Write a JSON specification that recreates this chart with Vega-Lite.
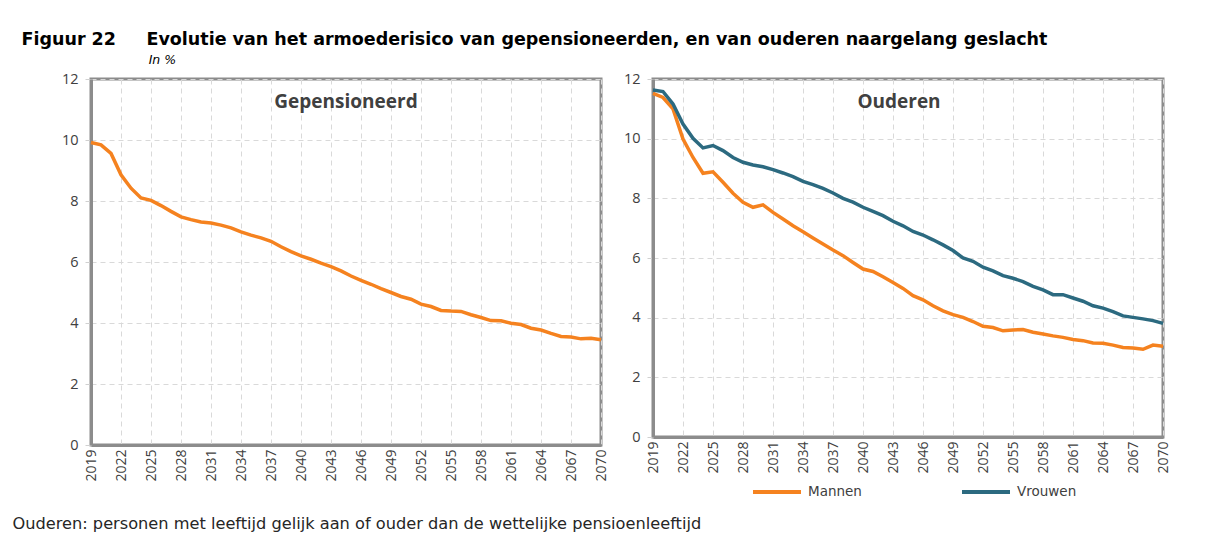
{
  "$schema": "https://vega.github.io/schema/vega-lite/v6.json",
  "padding": {"left": 10, "top": 30, "right": 5, "bottom": 5},
  "background": "white",
  "title": {
    "text": "Figuur 22\u00a0\u00a0\u00a0\u00a0\u00a0Evolutie van het armoederisico van gepensioneerden, en van ouderen naargelang geslacht",
    "subtitle": "\u200b\u00a0\u00a0\u00a0\u00a0\u00a0\u00a0\u00a0\u00a0\u00a0\u00a0\u00a0\u00a0\u00a0\u00a0\u00a0\u00a0\u00a0\u00a0\u00a0\u00a0\u00a0\u00a0\u00a0\u00a0\u00a0\u00a0\u00a0\u00a0\u00a0\u00a0\u00a0\u00a0In %",
    "anchor": "start",
    "frame": "bounds",
    "font": "DejaVu Sans",
    "fontSize": 17.5,
    "fontWeight": "bold",
    "color": "#000000",
    "subtitleFont": "DejaVu Sans",
    "subtitleFontSize": 12.5,
    "subtitleFontStyle": "italic",
    "subtitleColor": "#000000",
    "subtitlePadding": 6,
    "offset": 3,
    "dx": 11
  },
  "datasets": {
    "gep": [
      {"jaar": 2019, "waarde": 9.92}, {"jaar": 2020, "waarde": 9.84}, {"jaar": 2021, "waarde": 9.56}, {"jaar": 2022, "waarde": 8.86},
      {"jaar": 2023, "waarde": 8.42}, {"jaar": 2024, "waarde": 8.10}, {"jaar": 2025, "waarde": 8.02}, {"jaar": 2026, "waarde": 7.85},
      {"jaar": 2027, "waarde": 7.66}, {"jaar": 2028, "waarde": 7.48}, {"jaar": 2029, "waarde": 7.39}, {"jaar": 2030, "waarde": 7.31},
      {"jaar": 2031, "waarde": 7.28}, {"jaar": 2032, "waarde": 7.21}, {"jaar": 2033, "waarde": 7.12}, {"jaar": 2034, "waarde": 6.99},
      {"jaar": 2035, "waarde": 6.88}, {"jaar": 2036, "waarde": 6.79}, {"jaar": 2037, "waarde": 6.68}, {"jaar": 2038, "waarde": 6.50},
      {"jaar": 2039, "waarde": 6.34}, {"jaar": 2040, "waarde": 6.20}, {"jaar": 2041, "waarde": 6.09}, {"jaar": 2042, "waarde": 5.96},
      {"jaar": 2043, "waarde": 5.85}, {"jaar": 2044, "waarde": 5.71}, {"jaar": 2045, "waarde": 5.54}, {"jaar": 2046, "waarde": 5.40},
      {"jaar": 2047, "waarde": 5.27}, {"jaar": 2048, "waarde": 5.13}, {"jaar": 2049, "waarde": 5.00}, {"jaar": 2050, "waarde": 4.87},
      {"jaar": 2051, "waarde": 4.78}, {"jaar": 2052, "waarde": 4.62}, {"jaar": 2053, "waarde": 4.54}, {"jaar": 2054, "waarde": 4.41},
      {"jaar": 2055, "waarde": 4.39}, {"jaar": 2056, "waarde": 4.38}, {"jaar": 2057, "waarde": 4.27}, {"jaar": 2058, "waarde": 4.18},
      {"jaar": 2059, "waarde": 4.08}, {"jaar": 2060, "waarde": 4.07}, {"jaar": 2061, "waarde": 3.99}, {"jaar": 2062, "waarde": 3.95},
      {"jaar": 2063, "waarde": 3.83}, {"jaar": 2064, "waarde": 3.77}, {"jaar": 2065, "waarde": 3.66}, {"jaar": 2066, "waarde": 3.56},
      {"jaar": 2067, "waarde": 3.54}, {"jaar": 2068, "waarde": 3.48}, {"jaar": 2069, "waarde": 3.50}, {"jaar": 2070, "waarde": 3.45}
    ],
    "oud": [
      {"jaar": 2019, "geslacht": "Mannen", "waarde": 11.52}, {"jaar": 2020, "geslacht": "Mannen", "waarde": 11.38},
      {"jaar": 2021, "geslacht": "Mannen", "waarde": 11.00}, {"jaar": 2022, "geslacht": "Mannen", "waarde": 9.99},
      {"jaar": 2023, "geslacht": "Mannen", "waarde": 9.37}, {"jaar": 2024, "geslacht": "Mannen", "waarde": 8.84},
      {"jaar": 2025, "geslacht": "Mannen", "waarde": 8.89}, {"jaar": 2026, "geslacht": "Mannen", "waarde": 8.54},
      {"jaar": 2027, "geslacht": "Mannen", "waarde": 8.17}, {"jaar": 2028, "geslacht": "Mannen", "waarde": 7.87},
      {"jaar": 2029, "geslacht": "Mannen", "waarde": 7.70}, {"jaar": 2030, "geslacht": "Mannen", "waarde": 7.78},
      {"jaar": 2031, "geslacht": "Mannen", "waarde": 7.53}, {"jaar": 2032, "geslacht": "Mannen", "waarde": 7.31},
      {"jaar": 2033, "geslacht": "Mannen", "waarde": 7.08}, {"jaar": 2034, "geslacht": "Mannen", "waarde": 6.88},
      {"jaar": 2035, "geslacht": "Mannen", "waarde": 6.67}, {"jaar": 2036, "geslacht": "Mannen", "waarde": 6.47},
      {"jaar": 2037, "geslacht": "Mannen", "waarde": 6.27}, {"jaar": 2038, "geslacht": "Mannen", "waarde": 6.08},
      {"jaar": 2039, "geslacht": "Mannen", "waarde": 5.85}, {"jaar": 2040, "geslacht": "Mannen", "waarde": 5.63},
      {"jaar": 2041, "geslacht": "Mannen", "waarde": 5.55}, {"jaar": 2042, "geslacht": "Mannen", "waarde": 5.37},
      {"jaar": 2043, "geslacht": "Mannen", "waarde": 5.18}, {"jaar": 2044, "geslacht": "Mannen", "waarde": 4.98},
      {"jaar": 2045, "geslacht": "Mannen", "waarde": 4.74}, {"jaar": 2046, "geslacht": "Mannen", "waarde": 4.60},
      {"jaar": 2047, "geslacht": "Mannen", "waarde": 4.40}, {"jaar": 2048, "geslacht": "Mannen", "waarde": 4.23},
      {"jaar": 2049, "geslacht": "Mannen", "waarde": 4.10}, {"jaar": 2050, "geslacht": "Mannen", "waarde": 4.01},
      {"jaar": 2051, "geslacht": "Mannen", "waarde": 3.87}, {"jaar": 2052, "geslacht": "Mannen", "waarde": 3.71},
      {"jaar": 2053, "geslacht": "Mannen", "waarde": 3.67}, {"jaar": 2054, "geslacht": "Mannen", "waarde": 3.56},
      {"jaar": 2055, "geslacht": "Mannen", "waarde": 3.59}, {"jaar": 2056, "geslacht": "Mannen", "waarde": 3.60},
      {"jaar": 2057, "geslacht": "Mannen", "waarde": 3.51}, {"jaar": 2058, "geslacht": "Mannen", "waarde": 3.45},
      {"jaar": 2059, "geslacht": "Mannen", "waarde": 3.39}, {"jaar": 2060, "geslacht": "Mannen", "waarde": 3.34},
      {"jaar": 2061, "geslacht": "Mannen", "waarde": 3.27}, {"jaar": 2062, "geslacht": "Mannen", "waarde": 3.23},
      {"jaar": 2063, "geslacht": "Mannen", "waarde": 3.15}, {"jaar": 2064, "geslacht": "Mannen", "waarde": 3.14},
      {"jaar": 2065, "geslacht": "Mannen", "waarde": 3.08}, {"jaar": 2066, "geslacht": "Mannen", "waarde": 3.00},
      {"jaar": 2067, "geslacht": "Mannen", "waarde": 2.98}, {"jaar": 2068, "geslacht": "Mannen", "waarde": 2.94},
      {"jaar": 2069, "geslacht": "Mannen", "waarde": 3.08}, {"jaar": 2070, "geslacht": "Mannen", "waarde": 3.04},
      {"jaar": 2019, "geslacht": "Vrouwen", "waarde": 11.63}, {"jaar": 2020, "geslacht": "Vrouwen", "waarde": 11.58},
      {"jaar": 2021, "geslacht": "Vrouwen", "waarde": 11.16}, {"jaar": 2022, "geslacht": "Vrouwen", "waarde": 10.49},
      {"jaar": 2023, "geslacht": "Vrouwen", "waarde": 10.01}, {"jaar": 2024, "geslacht": "Vrouwen", "waarde": 9.69},
      {"jaar": 2025, "geslacht": "Vrouwen", "waarde": 9.77}, {"jaar": 2026, "geslacht": "Vrouwen", "waarde": 9.60},
      {"jaar": 2027, "geslacht": "Vrouwen", "waarde": 9.37}, {"jaar": 2028, "geslacht": "Vrouwen", "waarde": 9.21},
      {"jaar": 2029, "geslacht": "Vrouwen", "waarde": 9.12}, {"jaar": 2030, "geslacht": "Vrouwen", "waarde": 9.06},
      {"jaar": 2031, "geslacht": "Vrouwen", "waarde": 8.96}, {"jaar": 2032, "geslacht": "Vrouwen", "waarde": 8.85},
      {"jaar": 2033, "geslacht": "Vrouwen", "waarde": 8.73}, {"jaar": 2034, "geslacht": "Vrouwen", "waarde": 8.57},
      {"jaar": 2035, "geslacht": "Vrouwen", "waarde": 8.46}, {"jaar": 2036, "geslacht": "Vrouwen", "waarde": 8.33},
      {"jaar": 2037, "geslacht": "Vrouwen", "waarde": 8.18}, {"jaar": 2038, "geslacht": "Vrouwen", "waarde": 8.00},
      {"jaar": 2039, "geslacht": "Vrouwen", "waarde": 7.87}, {"jaar": 2040, "geslacht": "Vrouwen", "waarde": 7.70},
      {"jaar": 2041, "geslacht": "Vrouwen", "waarde": 7.56}, {"jaar": 2042, "geslacht": "Vrouwen", "waarde": 7.42},
      {"jaar": 2043, "geslacht": "Vrouwen", "waarde": 7.23}, {"jaar": 2044, "geslacht": "Vrouwen", "waarde": 7.08},
      {"jaar": 2045, "geslacht": "Vrouwen", "waarde": 6.89}, {"jaar": 2046, "geslacht": "Vrouwen", "waarde": 6.77},
      {"jaar": 2047, "geslacht": "Vrouwen", "waarde": 6.61}, {"jaar": 2048, "geslacht": "Vrouwen", "waarde": 6.44},
      {"jaar": 2049, "geslacht": "Vrouwen", "waarde": 6.25}, {"jaar": 2050, "geslacht": "Vrouwen", "waarde": 6.00},
      {"jaar": 2051, "geslacht": "Vrouwen", "waarde": 5.89}, {"jaar": 2052, "geslacht": "Vrouwen", "waarde": 5.69},
      {"jaar": 2053, "geslacht": "Vrouwen", "waarde": 5.57}, {"jaar": 2054, "geslacht": "Vrouwen", "waarde": 5.41},
      {"jaar": 2055, "geslacht": "Vrouwen", "waarde": 5.32}, {"jaar": 2056, "geslacht": "Vrouwen", "waarde": 5.21},
      {"jaar": 2057, "geslacht": "Vrouwen", "waarde": 5.05}, {"jaar": 2058, "geslacht": "Vrouwen", "waarde": 4.93},
      {"jaar": 2059, "geslacht": "Vrouwen", "waarde": 4.77}, {"jaar": 2060, "geslacht": "Vrouwen", "waarde": 4.77},
      {"jaar": 2061, "geslacht": "Vrouwen", "waarde": 4.66}, {"jaar": 2062, "geslacht": "Vrouwen", "waarde": 4.55},
      {"jaar": 2063, "geslacht": "Vrouwen", "waarde": 4.40}, {"jaar": 2064, "geslacht": "Vrouwen", "waarde": 4.32},
      {"jaar": 2065, "geslacht": "Vrouwen", "waarde": 4.20}, {"jaar": 2066, "geslacht": "Vrouwen", "waarde": 4.06},
      {"jaar": 2067, "geslacht": "Vrouwen", "waarde": 4.01}, {"jaar": 2068, "geslacht": "Vrouwen", "waarde": 3.96},
      {"jaar": 2069, "geslacht": "Vrouwen", "waarde": 3.90}, {"jaar": 2070, "geslacht": "Vrouwen", "waarde": 3.81}
    ]
  },
  "bounds": "flush",
  "spacing": 52,
  "hconcat": [
    {
      "width": 510,
      "height": 366,
      "data": {"name": "gep"},
      "title": {"text": "Gepensioneerd", "offset": -41, "anchor": "middle", "frame": "group"},
      "mark": {"type": "line", "color": "#F5821F", "strokeWidth": 3.5},
      "encoding": {
        "x": {
          "field": "jaar", "type": "quantitative",
          "scale": {"domain": [2019, 2070], "nice": false, "zero": false},
          "axis": {
            "values": [2019, 2022, 2025, 2028, 2031, 2034, 2037, 2040, 2043, 2046, 2049, 2052, 2055, 2058, 2061, 2064, 2067, 2070],
            "format": "d",
            "title": "Ouderen: personen met leeftijd gelijk aan of ouder dan de wettelijke pensioenleeftijd",
            "titleAnchor": "start", "titleAlign": "left", "titleBaseline": "alphabetic",
            "titleX": -79, "titleY": 83,
            "titleFont": "DejaVu Sans", "titleFontSize": 16.2, "titleFontWeight": "normal", "titleColor": "#262626"
          }
        },
        "y": {
          "field": "waarde", "type": "quantitative",
          "scale": {"domain": [0, 12], "nice": false},
          "axis": {"values": [0, 2, 4, 6, 8, 10, 12], "title": null}
        }
      }
    },
    {
      "width": 510,
      "height": 358,
      "data": {"name": "oud"},
      "title": {"text": "Ouderen", "offset": -41, "anchor": "middle", "frame": "group", "dx": -9},
      "mark": {"type": "line", "strokeWidth": 3.5},
      "encoding": {
        "x": {
          "field": "jaar", "type": "quantitative",
          "scale": {"domain": [2019, 2070], "nice": false, "zero": false},
          "axis": {
            "values": [2019, 2022, 2025, 2028, 2031, 2034, 2037, 2040, 2043, 2046, 2049, 2052, 2055, 2058, 2061, 2064, 2067, 2070],
            "format": "d",
            "title": null
          }
        },
        "y": {
          "field": "waarde", "type": "quantitative",
          "scale": {"domain": [0, 12], "nice": false},
          "axis": {"values": [0, 2, 4, 6, 8, 10, 12], "title": null}
        },
        "color": {
          "field": "geslacht", "type": "nominal",
          "scale": {"domain": ["Mannen", "Vrouwen"], "range": ["#F5821F", "#2C6A80"]},
          "legend": {
            "title": null, "orient": "none", "direction": "horizontal",
            "legendX": 660, "legendY": 387
          }
        }
      }
    }
  ],
  "config": {
    "view": {"stroke": "#8c8c8c", "strokeWidth": 3},
    "title": {"font": "Open Sans", "fontSize": 19, "fontWeight": "bold", "color": "#404040"},
    "axis": {
      "domainColor": "#8c8c8c", "domainWidth": 3,
      "gridColor": "#d9d9d9", "gridDash": [5, 4], "gridWidth": 1,
      "labelFont": "Open Sans", "labelColor": "#404040", "labelFontSize": 14.5
    },
    "axisY": {"tickSize": 6, "tickColor": "#d0d0d0", "labelPadding": 7},
    "axisX": {"labelAngle": 270, "ticks": false, "labelPadding": 4, "labelFontSize": 14, "labelFlush": false, "labelOverlap": false},
    "legend": {
      "symbolType": "stroke", "symbolStrokeWidth": 4, "symbolSize": 2304,
      "labelFont": "DejaVu Sans", "labelFontSize": 13.5, "labelColor": "#404040",
      "labelOffset": 5, "columnPadding": 92
    }
  }
}
